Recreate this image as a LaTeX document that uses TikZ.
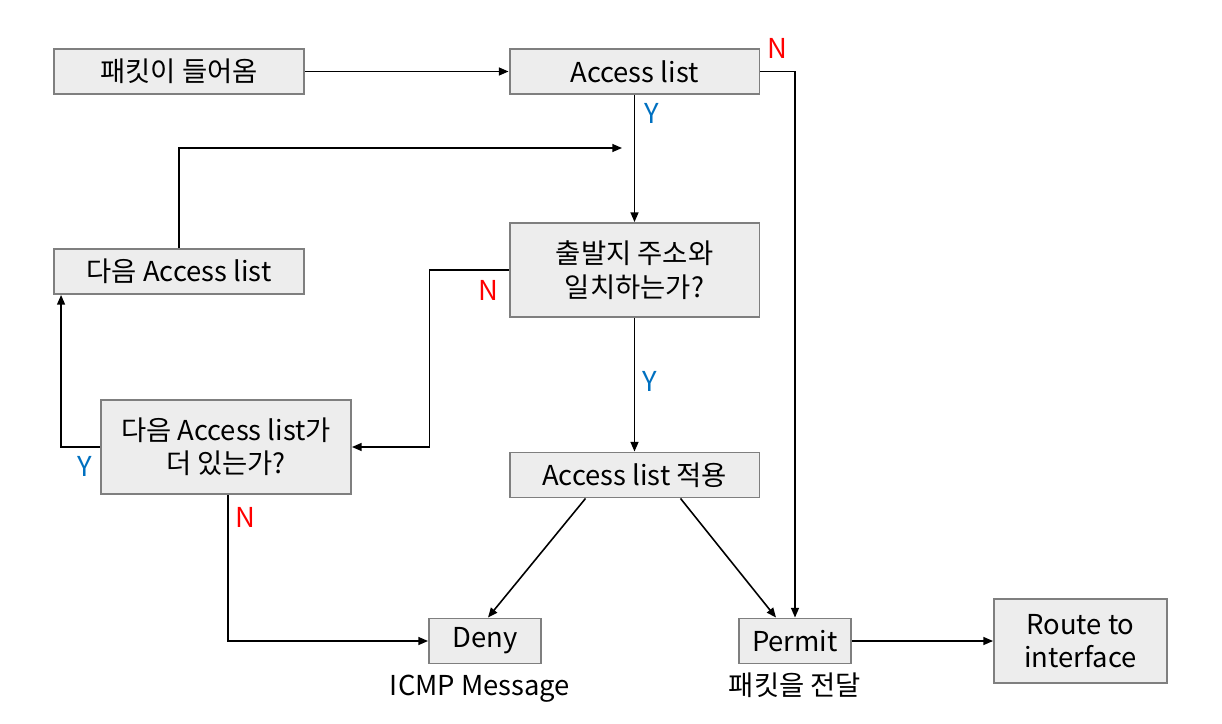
\documentclass[tikz,border=0pt]{standalone}
\usepackage{fontspec}
\setmainfont{Noto Sans CJK KR}
\usepackage{xcolor}
\usetikzlibrary{arrows.meta, positioning, calc}

\definecolor{boxfill}{HTML}{EDEDED}
\definecolor{boxgray}{HTML}{7F7F7F}
\definecolor{yesblue}{HTML}{0070C0}
\definecolor{nored}{HTML}{FF0000}

\begin{document}
\begin{tikzpicture}[x=0.02cm, y=-0.02cm]

\tikzset{
  flowbox/.style={rectangle, draw=boxgray, line width=1.1pt, fill=boxfill,
    text centered, align=center, minimum height=0.9cm, minimum width=5cm,
    inner sep=2pt, font=\fontsize{15.6}{19}\selectfont},
  tallbox/.style={flowbox, minimum height=1.88cm},
  smallbox/.style={flowbox, minimum width=2.24cm},
  plain/.style={font=\fontsize{15.6}{19}\selectfont, inner sep=0pt},
  yes/.style={plain, text=yesblue},
  no/.style={plain, text=nored},
  arrow/.style={-{Triangle[length=5.5pt, width=4.5pt]}, line width=0.9pt, black}
}

\useasboundingbox (0,0) rectangle (1222,723);

\node[flowbox] (in) at (179,71.5) {패킷이 들어옴};
\node[flowbox] (acl) at (634.5,71.5) {Access list};
\node[tallbox] (match) at (634.5,270) {출발지 주소와\\일치하는가?};
\node[flowbox] (next) at (179,271.5) {다음 Access list};
\node[tallbox] (more) at (226,447) {다음 Access list가\\더 있는가?};
\node[flowbox] (apply) at (634.5,475) {Access list 적용};
\node[smallbox] (deny) at (485,641) {Deny};
\node[smallbox] (permit) at (795,641) {Permit};
\node[tallbox, minimum width=3.46cm, minimum height=1.68cm] (route)
  at (1080.5,641) {Route to\\interface};
\node[plain] (icmp) at (480,689) {ICMP Message};
\node[plain] (fwd) at (795,685) {패킷을 전달};

\coordinate (loopend) at (622,148);

\draw[arrow] (in) -- (acl);
\draw[arrow] (acl.east) -| (permit.north);
\draw[arrow] (acl) -- (match);
\draw[arrow] (next.north) |- (loopend);
\draw[arrow] (match.west) -- ++(-79,0) |- (more.east);
\draw[arrow] (match) -- (apply);
\draw[arrow] (more.west) -| ($(next.south west)+(8,0)$);
\draw[arrow] ($(more.south)+(2,0)$) |- (deny.west);
\draw[arrow] ($(apply.south)+(-49,0)$) -- ($(deny.north)+(3,0)$);
\draw[arrow] ($(apply.south)+(46,0)$) -- ($(permit.north)+(-19,0)$);
\draw[arrow] (permit) -- (route);

\node[no] (nacl) at (777,48) {N};
\node[yes] (yacl) at (652,113) {Y};
\node[no] (nmatch) at (488,290) {N};
\node[yes] (ymatch) at (650,381) {Y};
\node[yes] (ymore) at (85,466) {Y};
\node[no] (nmore) at (245,517) {N};

\end{tikzpicture}
\end{document}
